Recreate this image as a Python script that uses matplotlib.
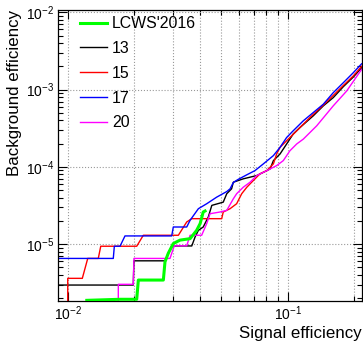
import matplotlib
matplotlib.use("Agg")
import matplotlib.pyplot as plt
from matplotlib.ticker import LogLocator, NullFormatter

plt.rcParams['font.family'] = ['Liberation Sans', 'DejaVu Sans']
plt.rcParams['mathtext.fontset'] = 'custom'
plt.rcParams['mathtext.rm'] = 'Liberation Sans'
plt.rcParams['mathtext.it'] = 'Liberation Sans:italic'

# curvas ROC: eficiencia de senal vs eficiencia de fondo
sig_lcws = [0.01221, 0.01729, 0.02059, 0.02094, 0.02721, 0.02768, 0.02866, 0.0302, 0.0324,
            0.036, 0.03855, 0.0400, 0.0413, 0.0421]
bkg_lcws = [1.88e-6, 1.94e-6, 1.94e-6, 3.44e-6, 3.44e-6, 5.92e-6, 7.65e-6, 1.02e-5, 1.13e-5,
            1.18e-5, 1.51e-5, 1.85e-5, 2.61e-5, 2.69e-5]

sig_13 = [0.00904, 0.01986, 0.0200, 0.02768, 0.0297, 0.03664, 0.03793, 0.03926, 0.0413, 0.04355,
          0.04519, 0.05093, 0.05284, 0.05559, 0.05662, 0.0628, 0.0723, 0.0804, 0.0832, 0.0861,
          0.0923, 0.0989, 0.1059, 0.1137, 0.1306, 0.1452, 0.1611, 0.179, 0.1986, 0.2168]
bkg_13 = [2.965e-6, 2.965e-6, 6.1e-6, 6.1e-6, 9.5e-6, 9.5e-6, 1.24e-5, 1.51e-5, 1.67e-5, 2.25e-5,
          3.18e-5, 3.50e-5, 4.50e-5, 5.21e-5, 6.34e-5, 7.01e-5, 7.73e-5, 8.96e-5, 9.42e-5, 1.206e-4,
          1.47e-4, 1.98e-4, 2.66e-4, 3.23e-4, 4.57e-4, 6.16e-4, 7.87e-4, 1.09e-3, 1.45e-3, 1.914e-3]

sig_15 = [0.0100, 0.0100, 0.01165, 0.01233, 0.01377, 0.01413, 0.02059, 0.02206, 0.03184, 0.03475,
          0.03664, 0.05012, 0.05093, 0.0547, 0.0586, 0.0618, 0.0652, 0.0686, 0.0748, 0.0804,
          0.0861, 0.0891, 0.0923, 0.0989, 0.1099, 0.1262, 0.1452, 0.1611, 0.179, 0.1986, 0.2168]
bkg_15 = [1.0e-6, 3.62e-6, 3.62e-6, 6.55e-6, 6.55e-6, 9.42e-6, 9.42e-6, 1.306e-5, 1.306e-5, 1.94e-5,
          2.14e-5, 2.14e-5, 2.61e-5, 2.88e-5, 3.34e-5, 4.50e-5, 5.46e-5, 6.34e-5, 8.13e-5, 8.96e-5,
          1.094e-4, 1.47e-4, 1.79e-4, 2.18e-4, 2.93e-4, 4.35e-4, 6.3e-4, 8.4e-4, 1.13e-3, 1.5e-3, 2.0e-3]

sig_17 = [0.00904, 0.01611, 0.01629, 0.01729, 0.01821, 0.0297, 0.0302, 0.03475, 0.036, 0.03926,
          0.04285, 0.04753, 0.05284, 0.0547, 0.05662, 0.05957, 0.06516, 0.071, 0.0775, 0.0861,
          0.0923, 0.0989, 0.1059, 0.1178, 0.1306, 0.1452, 0.1611, 0.179, 0.1986, 0.2168]
bkg_17 = [6.55e-6, 6.55e-6, 9.42e-6, 9.42e-6, 1.28e-5, 1.28e-5, 1.67e-5, 1.67e-5, 2.04e-5, 2.88e-5,
          3.34e-5, 4.06e-5, 4.8e-5, 5.2e-5, 6.3e-5, 6.9e-5, 7.9e-5, 8.96e-5, 1.094e-4, 1.40e-4,
          1.79e-4, 2.40e-4, 2.93e-4, 3.95e-4, 5.04e-4, 6.47e-4, 9.12e-4, 1.227e-3, 1.651e-3, 2.155e-3]

sig_20 = [0.01698, 0.01698, 0.01986, 0.0200, 0.02917, 0.0305, 0.03475, 0.036, 0.04064, 0.04285,
          0.04436, 0.0492, 0.05284, 0.05662, 0.05861, 0.0628, 0.06745, 0.0723, 0.0804, 0.0891,
          0.0955, 0.1024, 0.1099, 0.1178, 0.1355, 0.1611, 0.1854, 0.2168]
bkg_20 = [1.0e-6, 3.03e-6, 3.03e-6, 6.55e-6, 6.55e-6, 9.55e-6, 9.55e-6, 1.306e-5, 1.306e-5, 1.85e-5,
          2.48e-5, 2.61e-5, 2.74e-5, 3.87e-5, 4.50e-5, 5.46e-5, 6.34e-5, 7.73e-5, 8.96e-5, 1.04e-4,
          1.206e-4, 1.62e-4, 1.98e-4, 2.29e-4, 3.40e-4, 6.16e-4, 9.59e-4, 1.825e-3]

fig = plt.figure(figsize=(3.63, 3.45), dpi=100)
ax = fig.add_axes([0.1606, 0.1284, 0.8358, 0.8426])

ax.plot(sig_lcws, bkg_lcws, color='#00ff00', lw=2.2, label="LCWS'2016", zorder=3)
ax.plot(sig_13, bkg_13, color='black', lw=1.0, label='13')
ax.plot(sig_15, bkg_15, color='#ff0000', lw=1.0, label='15')
ax.plot(sig_17, bkg_17, color='#0000ff', lw=1.0, label='17')
ax.plot(sig_20, bkg_20, color='#ff00ff', lw=1.0, label='20')

ax.set_xscale('log')
ax.set_yscale('log')
ax.set_xlim(0.00906, 0.217)
ax.set_ylim(1.86e-6, 1.07e-2)

ax.xaxis.set_major_locator(LogLocator(base=10, numticks=10))
ax.xaxis.set_minor_locator(LogLocator(base=10, subs=range(2, 10), numticks=20))
ax.yaxis.set_minor_locator(LogLocator(base=10, subs=range(2, 10), numticks=20))
ax.xaxis.set_minor_formatter(NullFormatter())
ax.yaxis.set_minor_formatter(NullFormatter())

ax.tick_params(which='both', direction='in', top=True, right=True, labelsize=10, width=0.8)
ax.tick_params(which='major', length=6.5, pad=3)
ax.tick_params(which='minor', length=3.3)

ax.grid(True, which='both', axis='x', color='#999999', ls=':', lw=0.8)
ax.grid(True, which='major', axis='y', color='#999999', ls=':', lw=0.8)

for s in ax.spines.values():
    s.set_linewidth(0.9)

ax.set_xlabel('Signal efficiency', fontsize=12.2, loc='right')
ax.set_ylabel('Background efficiency', fontsize=12.2, loc='top')
ax.xaxis.set_label_coords(1.0, -0.087)
ax.yaxis.set_label_coords(-0.12, 1.0)

ax.legend(loc='upper left', bbox_to_anchor=(0.0715, 0.979), frameon=False, fontsize=11.4,
          handlelength=1.69, handletextpad=0.32, labelspacing=0.62, borderpad=0, borderaxespad=0)

plt.savefig('out.png', dpi=100)
